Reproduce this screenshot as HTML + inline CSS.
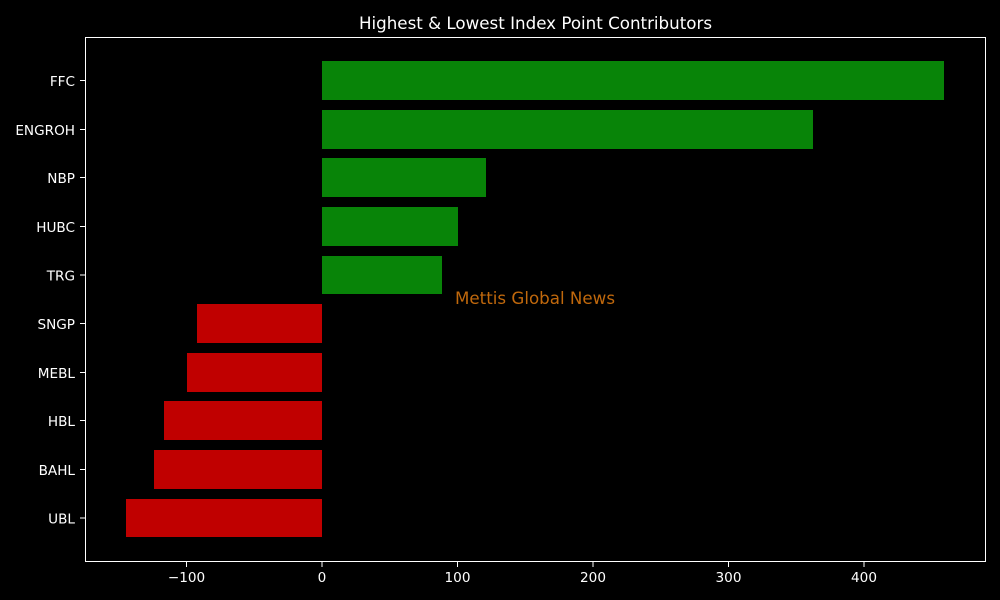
<!DOCTYPE html>
<html><head><meta charset="utf-8"><style>
body{margin:0;background:#000;width:1000px;height:600px;overflow:hidden}
svg{display:block}
text{font-family:"DejaVu Sans","Liberation Sans",sans-serif;fill:#fff}
</style></head><body>
<svg width="1000" height="600" xmlns="http://www.w3.org/2000/svg">
<rect width="1000" height="600" fill="#000"/>
<text x="535.5" y="29" font-size="16.7" text-anchor="middle">Highest &amp; Lowest Index Point Contributors</text>
<g fill="#088408">
<rect x="322" y="61" width="622" height="39"/>
<rect x="322" y="110" width="491" height="39"/>
<rect x="322" y="158" width="164" height="39"/>
<rect x="322" y="207" width="136" height="39"/>
<rect x="322" y="256" width="120" height="38"/>
</g>
<g fill="#c00000">
<rect x="197" y="304" width="125" height="39"/>
<rect x="187" y="353" width="135" height="39"/>
<rect x="164" y="401" width="158" height="39"/>
<rect x="154" y="450" width="168" height="39"/>
<rect x="126" y="499" width="196" height="38"/>
</g>
<rect x="85.5" y="37.5" width="900" height="524" fill="none" stroke="#fff" stroke-width="1"/>
<text x="455" y="304" font-size="16.7" style="fill:#c0680c">Mettis Global News</text>
<g font-size="13.6" text-anchor="end">
<text x="75" y="86">FFC</text>
<text x="75" y="135">ENGROH</text>
<text x="75" y="183">NBP</text>
<text x="75" y="232">HUBC</text>
<text x="75" y="280.5">TRG</text>
<text x="75" y="329">SNGP</text>
<text x="75" y="378">MEBL</text>
<text x="75" y="426">HBL</text>
<text x="75" y="475">BAHL</text>
<text x="75" y="523.5">UBL</text>
</g>
<g stroke="#fff">
<line x1="80" x2="85" y1="80.5" y2="80.5"/><line x1="80" x2="85" y1="129.5" y2="129.5"/>
<line x1="80" x2="85" y1="177.5" y2="177.5"/><line x1="80" x2="85" y1="226.5" y2="226.5"/>
<line x1="80" x2="85" y1="275" y2="275"/><line x1="80" x2="85" y1="323.5" y2="323.5"/>
<line x1="80" x2="85" y1="372.5" y2="372.5"/><line x1="80" x2="85" y1="420.5" y2="420.5"/>
<line x1="80" x2="85" y1="469.5" y2="469.5"/><line x1="80" x2="85" y1="518" y2="518"/>
<line x1="186.5" x2="186.5" y1="562" y2="567"/><line x1="322" x2="322" y1="562" y2="567"/>
<line x1="457.5" x2="457.5" y1="562" y2="567"/><line x1="593" x2="593" y1="562" y2="567"/>
<line x1="728.5" x2="728.5" y1="562" y2="567"/><line x1="864" x2="864" y1="562" y2="567"/>
</g>
<g font-size="13.6" text-anchor="middle">
<text x="186.5" y="582">−100</text><text x="322" y="582">0</text>
<text x="457.5" y="582">100</text><text x="593" y="582">200</text>
<text x="728.5" y="582">300</text><text x="864" y="582">400</text>
</g>
</svg>
</body></html>
